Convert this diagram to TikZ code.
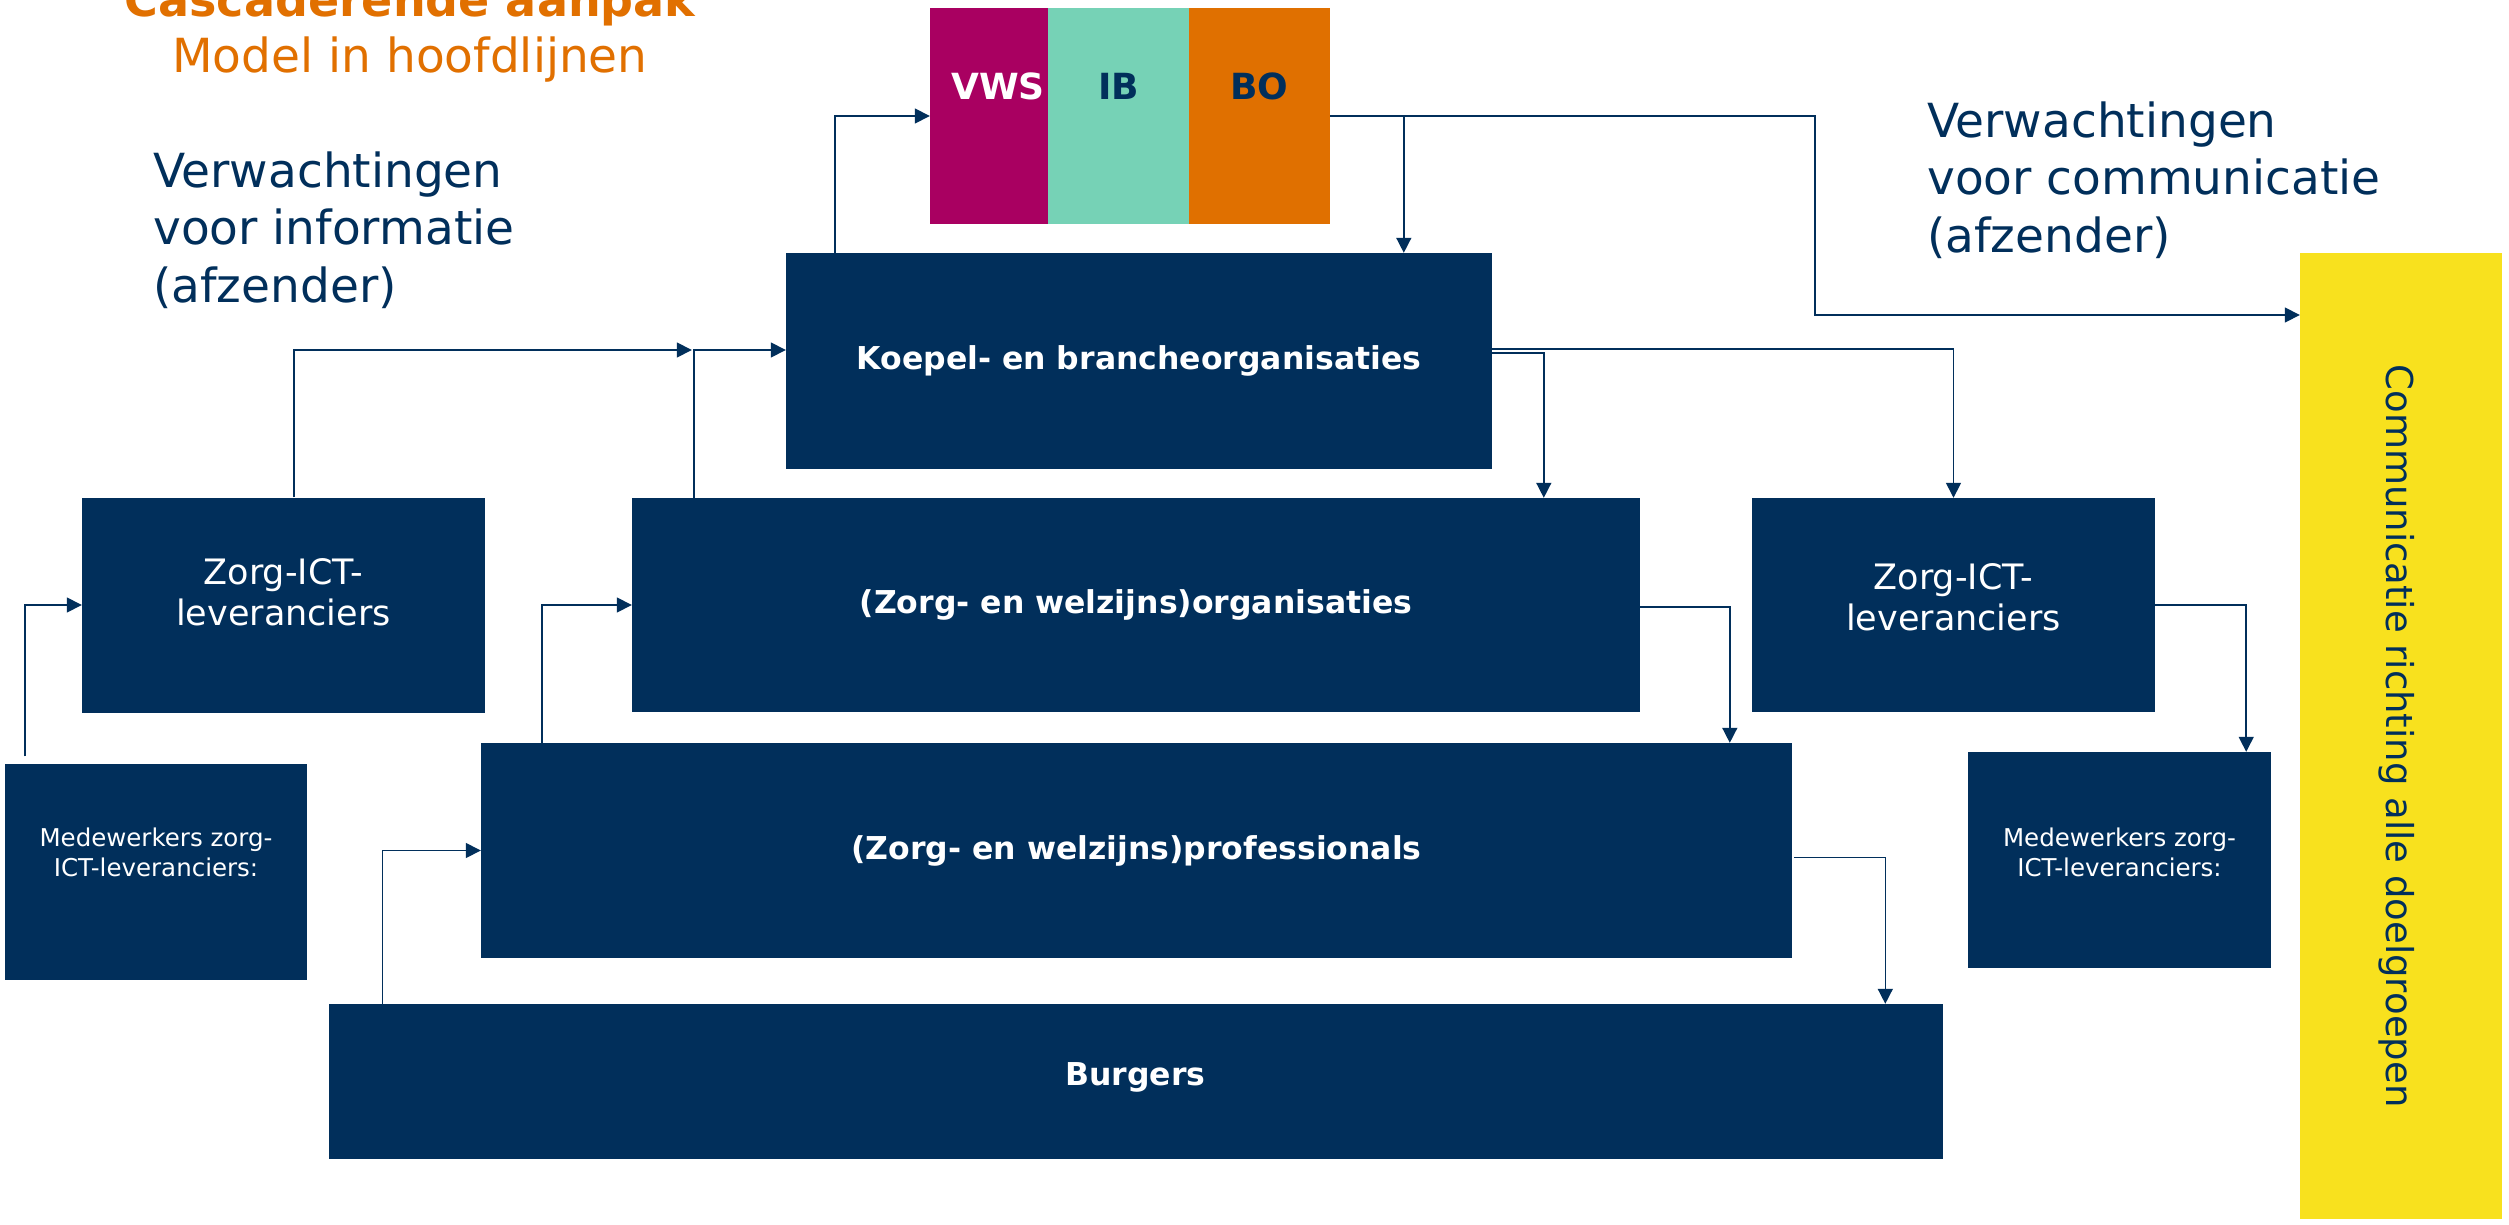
\documentclass[tikz,border=0pt]{standalone}
\usepackage{fontspec}
\setmainfont{DejaVu Sans}
\usetikzlibrary{arrows.meta,calc}
\definecolor{navy}{RGB}{1,47,91}
\definecolor{vwsc}{RGB}{169,0,97}
\definecolor{ibc}{RGB}{118,210,182}
\definecolor{boc}{RGB}{224,112,0}
\definecolor{ylw}{RGB}{248,225,30}
\definecolor{orng}{RGB}{225,112,0}
\tikzset{
  nbox/.style={fill=navy, draw=none, inner sep=0pt, text=white},
  conn/.style={draw=navy, line width=1.5pt, -{Triangle[length=15pt,width=15pt]}},
  btxt/.style={font=\fontsize{31.5}{38}\selectfont\bfseries},
  ztxt/.style={text=white, align=center, inner sep=0pt, font=\fontsize{35}{41}\selectfont},
  mtxt/.style={text=white, align=center, inner sep=0pt, font=\fontsize{24.5}{30}\selectfont},
  htxt/.style={text=navy, anchor=base west, inner sep=0pt, font=\fontsize{47}{57}\selectfont},
  ttxt/.style={text=orng, anchor=base, inner sep=0pt},
  ltxt/.style={inner sep=0pt, font=\fontsize{36}{40}\selectfont\bfseries},
}
\begin{document}
\begin{tikzpicture}[x=1pt,y=-1pt]
\clip (0,0) rectangle (2509,1225);
\fill[white] (0,0) rectangle (2509,1225);

% titles
\node[ttxt, font=\fontsize{46}{50}\selectfont\bfseries] (t1) at (410,17) {Cascaderende aanpak};
\node[ttxt, font=\fontsize{47}{50}\selectfont] (t2) at (410,73) {Model in hoofdlijnen};

\node[htxt] (li1) at (153,188) {Verwachtingen};
\node[htxt] (li2) at (153,245) {voor informatie};
\node[htxt] (li3) at (153,302) {(afzender)};

\node[htxt] (re1) at (1927,138) {Verwachtingen};
\node[htxt] (re2) at (1927,195) {voor communicatie};
\node[htxt] (re3) at (1927,252) {(afzender)};

% VWS / IB / BO
\node[nbox, fill=vwsc, minimum width=118pt, minimum height=216pt] (vws) at (989,116) {};
\node[nbox, fill=ibc, minimum width=141pt, minimum height=216pt] (ib) at (1118.5,116) {};
\node[nbox, fill=boc, minimum width=141pt, minimum height=216pt] (bo) at (1259.5,116) {};
\node[ltxt, text=white] (vwst) at ([xshift=9pt,yshift=30pt]vws.center) {VWS};
\node[ltxt, text=navy] (ibt) at ([yshift=30pt]ib.center) {IB};
\node[ltxt, text=navy] (bot) at ([yshift=30pt]bo.center) {BO};

% boxes
\node[nbox, btxt, minimum width=706pt, minimum height=216pt] (koepel) at (1139,361) {Koepel- en brancheorganisaties};
\node[nbox, minimum width=403pt, minimum height=215pt] (zl) at (283.5,605) {};
\node[ztxt] (zlt) at ([yshift=13pt]zl.center) {Zorg-ICT-\\leveranciers};
\node[nbox, btxt, minimum width=1008pt, minimum height=214pt] (org) at (1136,605) {(Zorg- en welzijns)organisaties};
\node[nbox, minimum width=403pt, minimum height=214pt] (zr) at (1953.5,605) {};
\node[ztxt] (zrt) at ([yshift=8pt]zr.center) {Zorg-ICT-\\leveranciers};
\node[nbox, minimum width=302pt, minimum height=216pt] (ml) at (156,871.5) {};
\node[mtxt] (mlt) at ([yshift=19pt]ml.center) {Medewerkers zorg-\\ICT-leveranciers:};
\node[nbox, btxt, minimum width=1311pt, minimum height=215pt] (prof) at (1136.5,850.5) {(Zorg- en welzijns)professionals};
\node[nbox, minimum width=303pt, minimum height=216pt] (mr) at (2119.5,860) {};
\node[mtxt] (mrt) at ([yshift=8pt]mr.center) {Medewerkers zorg-\\ICT-leveranciers:};
\node[nbox, minimum width=1614pt, minimum height=155pt] (burg) at (1135.5,1081.5) {};
\node[btxt, text=white, inner sep=0pt] (burgt) at ([yshift=4pt]burg.center) {Burgers};

% yellow bar
\node[fill=ylw, draw=none, inner sep=0pt, minimum width=202pt, minimum height=966pt] (yb) at (2401,736) {};
\node[rotate=-90, text=navy, inner sep=0pt, font=\fontsize{37}{40}\selectfont] (ybt) at ([xshift=-4pt]yb.center) {Communicatie richting alle doelgroepen};

% connectors
\draw[conn] ([xshift=49pt]koepel.north west) |- (vws.west);
\draw[conn] (bo.east) -| ([xshift=618pt]koepel.north west);
\coordinate (cb) at (1815,315);
\draw[conn] (bo.east) -| (cb) -- (cb -| yb.west);
\draw[conn] ([yshift=12pt]koepel.east) -| (zr.north);
\draw[conn] ([yshift=8pt]koepel.east) -| ([xshift=912pt]org.north west);
\coordinate (k7) at ([yshift=11pt]koepel.west);
\coordinate (o7) at ([xshift=62pt]org.north west);
\draw[conn] (o7) |- (k7);
\coordinate (j7) at ($(o7 |- k7)+(-2,0)$);
\draw[conn] ([xshift=212pt]zl.north west) |- (j7);
\draw[conn] ([xshift=20pt,yshift=7pt]ml.north west) |- (zl.west);
\draw[conn] ([xshift=61pt]prof.north west) |- (org.west);
\draw[conn] ([xshift=54pt]burg.north west) |- (prof.west);
\draw[conn] ([yshift=-2pt]org.east) -| ([xshift=1249pt]prof.north west);
\draw[conn] (zr.east) -| ([xshift=-25pt]mr.north east);
\draw[conn] ([xshift=2pt,yshift=-7pt]prof.east) -| ([xshift=1557pt]burg.north west);
\end{tikzpicture}
\end{document}
